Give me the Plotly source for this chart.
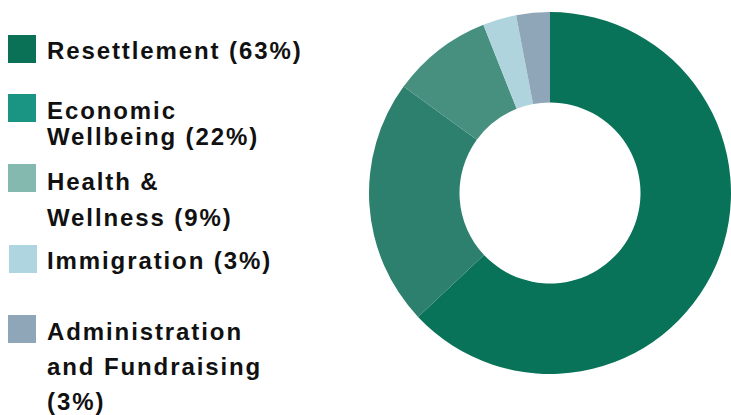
import plotly.graph_objects as go

# ---- data ----
categories = ["Resettlement", "Economic Wellbeing", "Health & Wellness", "Immigration",
              "Administration and Fundraising"]
shares = [63, 22, 9, 3, 3]
legend_lines = [
    ["Resettlement (63%)"],
    ["Economic", "Wellbeing (22%)"],
    ["Health &", "Wellness (9%)"],
    ["Immigration (3%)"],
    ["Administration", "and Fundraising", "(3%)"],
]

# ---- style ----
slice_colors = ["#087359", "#2e806e", "#47907f", "#b0d4de", "#8fa6b8"]
legend_colors = ["#0a7157", "#1a9583", "#84b9b0", "#aed5e0", "#8fa6b8"]
W, H = 731, 415
swatch_top = [35, 94, 164, 245, 315]
swatch_left = [8, 8, 8, 9, 8]
line_mid = [[50.5], [110.3, 136.3], [181, 217.5], [260], [331, 366, 401]]
SW = 28
TEXT_X = 45

fig = go.Figure()
fig.add_trace(go.Pie(
    labels=categories,
    values=shares,
    hole=0.5,
    sort=False,
    direction="clockwise",
    rotation=0,
    marker=dict(colors=slice_colors, line=dict(width=0)),
    textinfo="none",
    hoverinfo="label+percent",
    showlegend=False,
    domain=dict(x=[369 / W, 1.0], y=[41 / H, 403 / H]),
))

shapes = []
annotations = []
for i, cat in enumerate(categories):
    x0 = swatch_left[i]
    y0 = swatch_top[i]
    shapes.append(dict(
        type="rect", xref="paper", yref="paper",
        x0=x0 / W, x1=(x0 + SW) / W,
        y0=1 - (y0 + SW) / H, y1=1 - y0 / H,
        fillcolor=legend_colors[i], line=dict(width=0),
    ))
    for line, ym in zip(legend_lines[i], line_mid[i]):
        annotations.append(dict(
            text=line, xref="paper", yref="paper",
            x=TEXT_X / W, y=1 - ym / H,
            xanchor="left", yanchor="middle", align="left", showarrow=False,
            font=dict(family="Liberation Sans, Arial, sans-serif", size=24,
                      color="#111111", weight="bold"),
        ))

fig.update_layout(
    width=W, height=H,
    margin=dict(l=0, r=0, t=0, b=0),
    paper_bgcolor="white",
    plot_bgcolor="white",
    shapes=shapes,
    annotations=annotations,
)

post = """
document.body.style.margin = '0';
document.body.style.padding = '0';
document.querySelectorAll('.annotation-text').forEach(function(e){
  e.style.letterSpacing = '1.9px';
});
"""
fig.write_html("out.html", post_script=post, config={"displayModeBar": False})
